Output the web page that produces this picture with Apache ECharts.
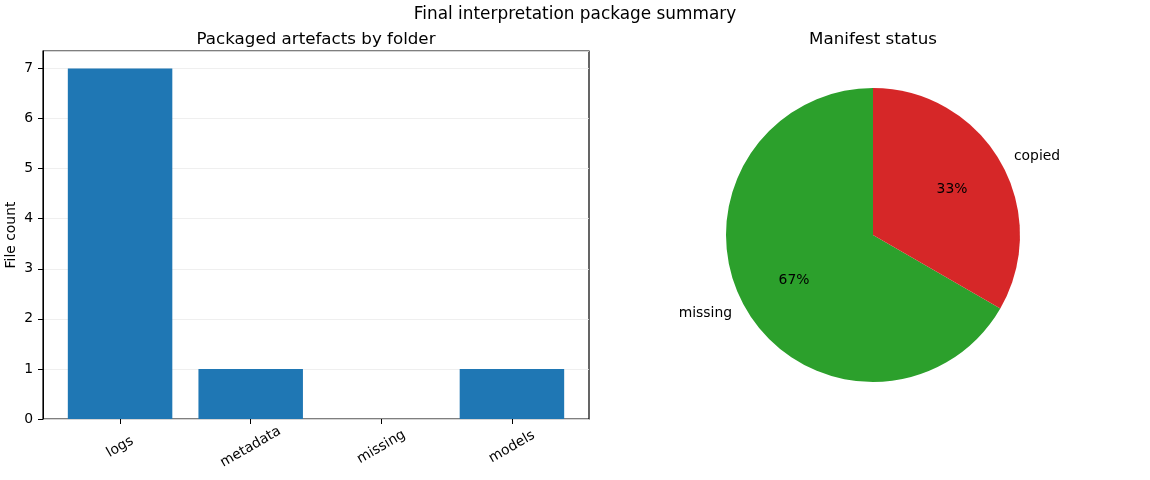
<!DOCTYPE html>
<html>
<head>
<meta charset="utf-8">
<script src="https://cdn.jsdelivr.net/npm/echarts@6/dist/echarts.min.js"></script>
<style>html,body{margin:0;padding:0;background:#fff;}#c{width:1150px;height:480px;}</style>
</head>
<body>
<div id="c"></div>
<script>
const folders = ['logs', 'metadata', 'missing', 'models'];
const fileCounts = [7, 1, 0, 1];
const statusNames = ['missing', 'copied'];
const statusCounts = [2, 1];
const statusColors = ['#2ca02c', '#d62728'];

const FONT = 'DejaVu Sans';
const chart = echarts.init(document.getElementById('c'), null, {renderer: 'canvas'});
const option = {
  animation: false,
  textStyle: {fontFamily: FONT},
  title: [
    {text: 'Final interpretation package summary', left: 570, top: 1, textAlign: 'center',
     textStyle: {fontFamily: FONT, fontSize: 16.9, fontWeight: 'normal', color: '#000'}},
    {text: 'Packaged artefacts by folder', left: 311, top: 26, textAlign: 'center',
     textStyle: {fontFamily: FONT, fontSize: 16.7, fontWeight: 'normal', color: '#000'}},
    {text: 'Manifest status', left: 868, top: 26, textAlign: 'center',
     textStyle: {fontFamily: FONT, fontSize: 16.7, fontWeight: 'normal', color: '#000'}}
  ],
  grid: [
    {left: 43, top: 51, width: 546, height: 368, show: true, borderColor: '#000', borderWidth: 1.2, backgroundColor: 'transparent', containLabel: false},
    {left: 54.76, top: 51, width: 522.48, height: 368, containLabel: false}
  ],
  xAxis: [
    {gridIndex: 0, type: 'value', min: 0, max: 1, show: false},
    {gridIndex: 1, type: 'category', data: folders, boundaryGap: true,
     axisLine: {show: false},
     axisTick: {show: true, alignWithLabel: true, length: 5, lineStyle: {color: '#000'}},
     axisLabel: {rotate: 30, align: 'center', verticalAlign: 'middle', margin: 28,
                 fontFamily: FONT, fontSize: 13.9, color: '#000'},
     splitLine: {show: false}}
  ],
  yAxis: [
    {gridIndex: 0, type: 'value', min: 0, max: 7.35, interval: 1,
     name: 'File count', nameLocation: 'middle', nameGap: 25,
     nameTextStyle: {fontFamily: FONT, fontSize: 13.9, color: '#000'},
     axisLine: {show: true, lineStyle: {color: '#000'}},
     axisTick: {show: true, length: 5, lineStyle: {color: '#000'}},
     axisLabel: {showMaxLabel: false, margin: 10, fontFamily: FONT, fontSize: 13.9, color: '#000'},
     splitLine: {show: true, lineStyle: {color: '#ebebeb', width: 0.8}}},
    {gridIndex: 1, type: 'value', min: 0, max: 7.35, show: false, splitLine: {show: false}}
  ],
  series: [
    {type: 'bar', xAxisIndex: 1, yAxisIndex: 1, data: fileCounts, barWidth: '80%',
     itemStyle: {color: '#1f77b4'}, silent: true},
    {type: 'pie', center: [873, 235], radius: 147, startAngle: 90, clockwise: false,
     avoidLabelOverlap: false, silent: true,
     data: statusNames.map((n, i) => ({name: n, value: statusCounts[i], itemStyle: {color: statusColors[i]}})),
     label: {show: true, position: 'outer', fontFamily: FONT, fontSize: 13.9, color: '#000', formatter: '{b}'},
     labelLine: {show: false, length: 10, length2: 0},
     emphasis: {disabled: true}},
    {type: 'pie', center: [873, 235], radius: 176.4, startAngle: 90, clockwise: false,
     avoidLabelOverlap: false, silent: true, percentPrecision: 0,
     data: statusNames.map((n, i) => ({name: n, value: statusCounts[i], itemStyle: {color: 'rgba(0,0,0,0)'}})),
     label: {show: true, position: 'inside', fontFamily: FONT, fontSize: 13.9, color: '#000', formatter: '{d}%'},
     labelLine: {show: false},
     emphasis: {disabled: true}}
  ]
};
chart.setOption(option);
</script>
</body>
</html>
